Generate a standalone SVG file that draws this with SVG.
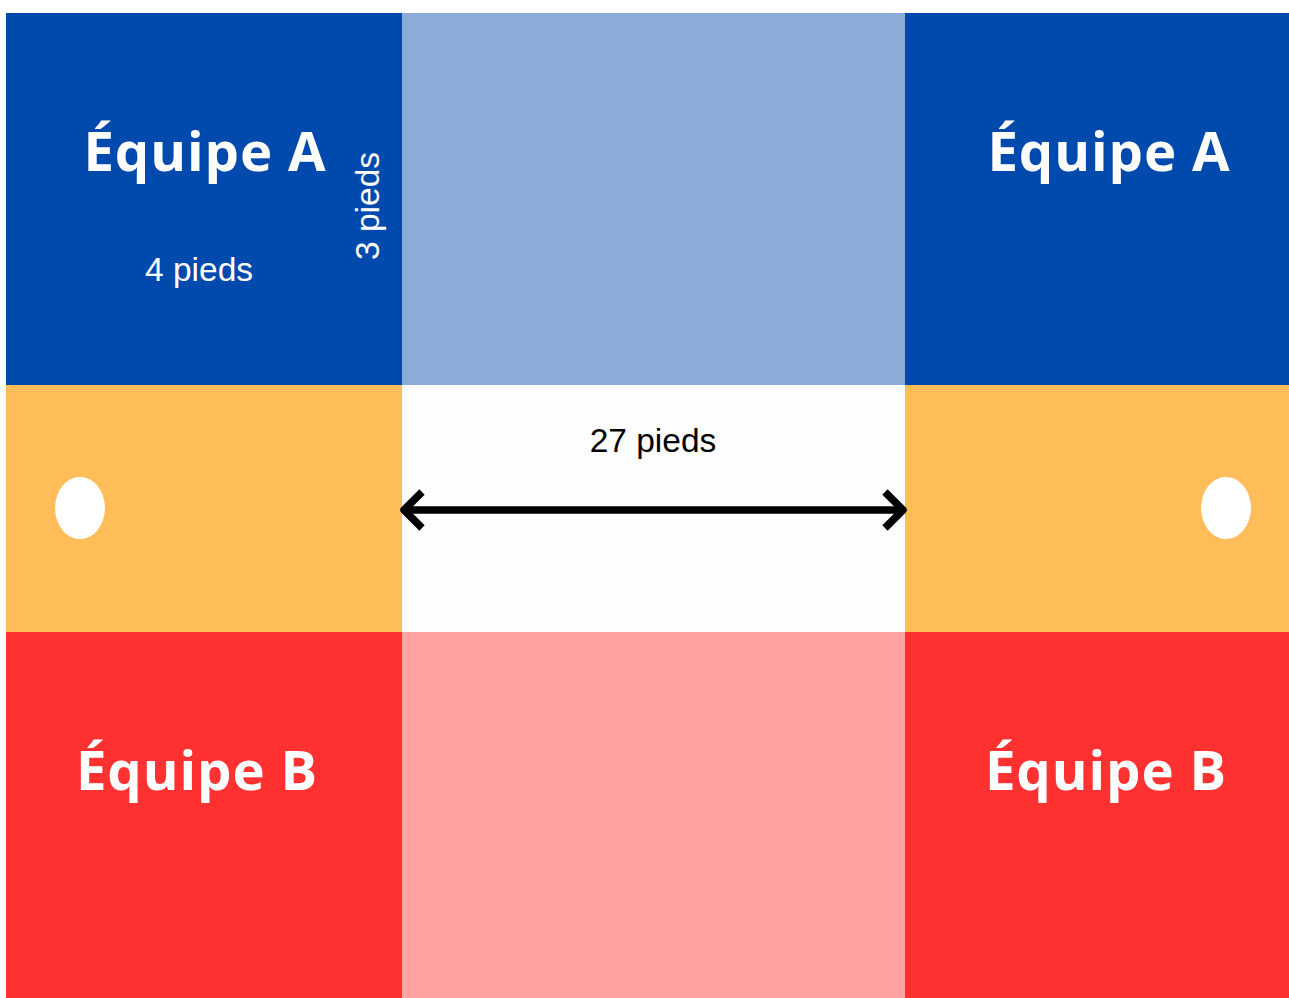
<svg xmlns="http://www.w3.org/2000/svg" width="1289" height="998" viewBox="0 0 1289 998">
<style>
.team{font-family:"Open Sans","Noto Sans",sans-serif;font-weight:bold;font-size:54.5px;letter-spacing:0.9px;fill:#fff;text-anchor:middle}
.dim{font-family:"Liberation Sans",Arial,sans-serif;font-size:33.5px;text-anchor:middle}
</style>
<rect width="1289" height="998" fill="#fff"/>
<g id="zone-a-left"><rect x="6" y="13" width="396" height="372" fill="#004AAD"/><text class="team" x="205" y="171">Équipe A</text></g>
<g id="zone-a-mid"><rect x="402" y="13" width="503" height="372" fill="#8CACD8"/></g>
<g id="zone-a-right"><rect x="905" y="13" width="384" height="372" fill="#004AAD"/><text class="team" x="1109" y="171">Équipe A</text></g>
<g id="zone-mid-left"><rect x="6" y="385" width="396" height="247" fill="#FFBD59"/><ellipse cx="80" cy="508" rx="25" ry="31" fill="#fff"/></g>
<g id="zone-mid-center"><rect x="402" y="385" width="503" height="247" fill="#FDFDFD"/><text class="dim" x="653" y="452" fill="#000">27 pieds</text></g>
<g id="zone-mid-right"><rect x="905" y="385" width="384" height="247" fill="#FFBD59"/><ellipse cx="1226" cy="508" rx="25" ry="31" fill="#fff"/></g>
<g id="zone-b-left"><rect x="6" y="632" width="396" height="366" fill="#FF3131"/><text class="team" x="197" y="790">Équipe B</text></g>
<g id="zone-b-mid"><rect x="402" y="632" width="503" height="366" fill="#FEA2A2"/></g>
<g id="zone-b-right"><rect x="905" y="632" width="384" height="366" fill="#FF3131"/><text class="team" x="1106" y="790">Équipe B</text></g>
<g id="labels">
<text class="dim" x="199" y="281" fill="#fff">4 pieds</text>
<text class="dim" fill="#fff" transform="translate(379 206) rotate(-90)">3 pieds</text>
</g>
<g id="connectors" fill="none" stroke="#000" stroke-width="7.5" stroke-linecap="butt">
<line x1="404" y1="510" x2="903" y2="510"/>
<polyline points="422,492 404,510 422,528" stroke-linejoin="round"/>
<polyline points="885,492 903,510 885,528" stroke-linejoin="round"/>
</g>
</svg>
